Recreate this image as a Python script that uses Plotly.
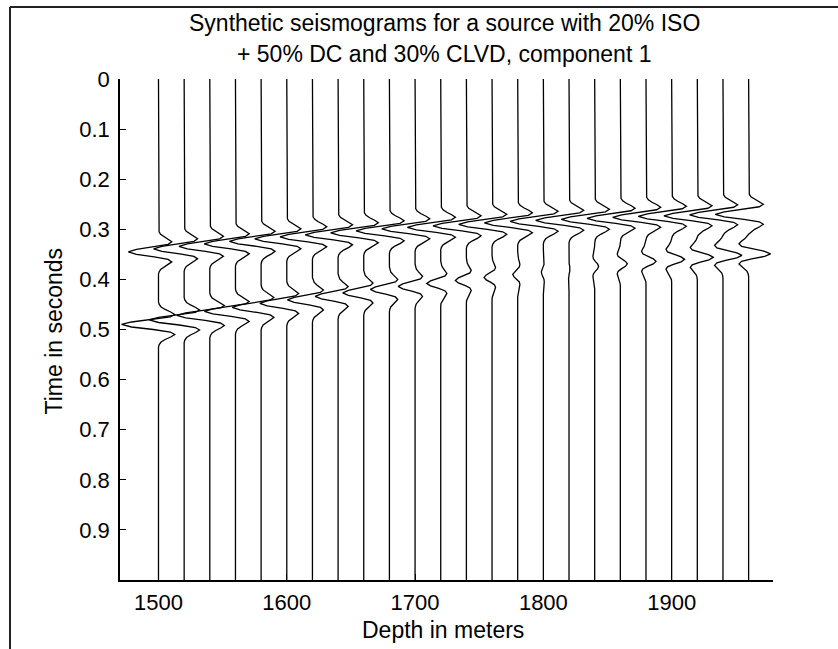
import numpy as np
import plotly.graph_objects as go

# Receiver depths (m) along the borehole
depths = [1500, 1520, 1540, 1560, 1580, 1600, 1620, 1640, 1660, 1680, 1700, 1720,
          1740, 1760, 1780, 1800, 1820, 1840, 1860, 1880, 1900, 1920, 1940, 1960]

# First (P) arrival: centre time (s) and peak deflection (m on the depth axis)
p_time = [0.345, 0.339, 0.334, 0.329, 0.324, 0.319, 0.315, 0.311, 0.307, 0.303, 0.299, 0.296,
          0.293, 0.290, 0.287, 0.284, 0.282, 0.280, 0.278, 0.276, 0.274, 0.273, 0.271, 0.270]
p_amp = [-23.5, -23.8, -24.1, -24.4, -24.7, -25.0, -25.3, -25.6, -25.8, -26.0, -26.0, -26.0,
         -26.0, -26.0, -26.0, -26.0, -26.0, -26.0, -26.0, -26.0, -26.0, -26.0, -26.0, -26.0]

# Second (S) arrival: centre time (s) and peak deflection (m)
s_time = [0.490, 0.481, 0.472, 0.464, 0.456, 0.448, 0.441, 0.434, 0.427, 0.420, 0.414, 0.408,
          0.402, 0.396, 0.390, 0.385, 0.379, 0.374, 0.369, 0.364, 0.360, 0.356, 0.352, 0.349]
s_amp = [-28.8, -27.3, -25.7, -24.2, -22.6, -21.0, -19.5, -17.9, -16.4, -14.8, -13.2, -10.9,
         -8.6, -6.2, -3.9, -1.6, 0.8, 3.1, 5.5, 7.8, 10.1, 12.5, 14.8, 17.1]

# Normalised source wavelet, sampled every 5 ms around its centre
wavelet_dt = 0.005
wavelet = [0.0, -0.02, -0.07, -0.18, -0.33, -0.44, -0.32, 0.14, 0.73, 1.0,
           0.73, 0.14, -0.32, -0.44, -0.33, -0.18, -0.07, -0.02, 0.0]
record_length = 1.0

y_ticks = [0, 0.1, 0.2, 0.3, 0.4, 0.5, 0.6, 0.7, 0.8, 0.9]
y_tick_text = ["0", "0.1", "0.2", "0.3", "0.4", "0.5", "0.6", "0.7", "0.8", "0.9"]
x_ticks = [1500, 1600, 1700, 1800, 1900]

title_lines = ["Synthetic seismograms for a source with 20% ISO",
               "+ 50% DC and 30% CLVD, component 1"]

W, H = 838, 649
ML, MR, MT, MB = 120, 65, 79, 69
PW, PH = W - ML - MR, H - MT - MB


def px(x):
    return (x - ML) / PW


def py(y):
    return (H - MB - y) / PH


offsets = (np.arange(len(wavelet)) - (len(wavelet) - 1) / 2) * wavelet_dt
wv = np.array(wavelet)

fig = go.Figure()
for d, tp, ap, ts, a_s in zip(depths, p_time, p_amp, s_time, s_amp):
    t = np.unique(np.concatenate([[0.0, record_length], tp + offsets, ts + offsets]))
    t = t[(t >= 0) & (t <= record_length)]
    x = (d + ap * np.interp(t - tp, offsets, wv, left=0, right=0)
         + a_s * np.interp(t - ts, offsets, wv, left=0, right=0))
    fig.add_trace(go.Scatter(x=x, y=t, mode="lines",
                             line=dict(color="black", width=1.3),
                             hoverinfo="skip", showlegend=False))

font_family = "Liberation Sans, Arial, sans-serif"

fig.update_layout(
    width=W, height=H,
    margin=dict(l=ML, r=MR, t=MT, b=MB, pad=0),
    paper_bgcolor="white", plot_bgcolor="white",
    font=dict(family=font_family, color="black", size=22),
    xaxis=dict(range=[1470, 1979], tickvals=x_ticks, ticks="inside", ticklen=6,
               tickcolor="black", tickwidth=1, showline=True, linecolor="black",
               linewidth=1.5, showgrid=False, zeroline=False,
               tickfont=dict(size=22), ticklabelstandoff=2),
    yaxis=dict(range=[record_length, 0], tickvals=y_ticks, ticktext=y_tick_text,
               ticks="inside", ticklen=6, tickcolor="black", tickwidth=1,
               showline=True, linecolor="black", linewidth=1.5, showgrid=False,
               zeroline=False, tickfont=dict(size=22), ticklabelstandoff=4),
)

annotations = [
    dict(text=title_lines[0], x=px(444), y=py(22.7), xref="paper", yref="paper",
         xanchor="center", yanchor="middle", showarrow=False, font=dict(size=23)),
    dict(text=title_lines[1], x=px(444), y=py(53.7), xref="paper", yref="paper",
         xanchor="center", yanchor="middle", showarrow=False, font=dict(size=23)),
    dict(text="Depth in meters", x=px(443), y=py(630), xref="paper", yref="paper",
         xanchor="center", yanchor="middle", showarrow=False, font=dict(size=23)),
    dict(text="Time in seconds", x=px(53.5), y=py(331), xref="paper", yref="paper",
         xanchor="center", yanchor="middle", showarrow=False, textangle=-90,
         font=dict(size=23)),
]
fig.update_layout(annotations=annotations)

# Window frame along the top and left edges
frame = dict(color="#222222", width=2)
fig.add_shape(type="line", xref="paper", yref="paper",
              x0=px(10), y0=py(7), x1=px(W + 2), y1=py(7), line=frame)
fig.add_shape(type="line", xref="paper", yref="paper",
              x0=px(10), y0=py(7), x1=px(10), y1=py(H + 2), line=frame)

fig.write_html("out.html")
